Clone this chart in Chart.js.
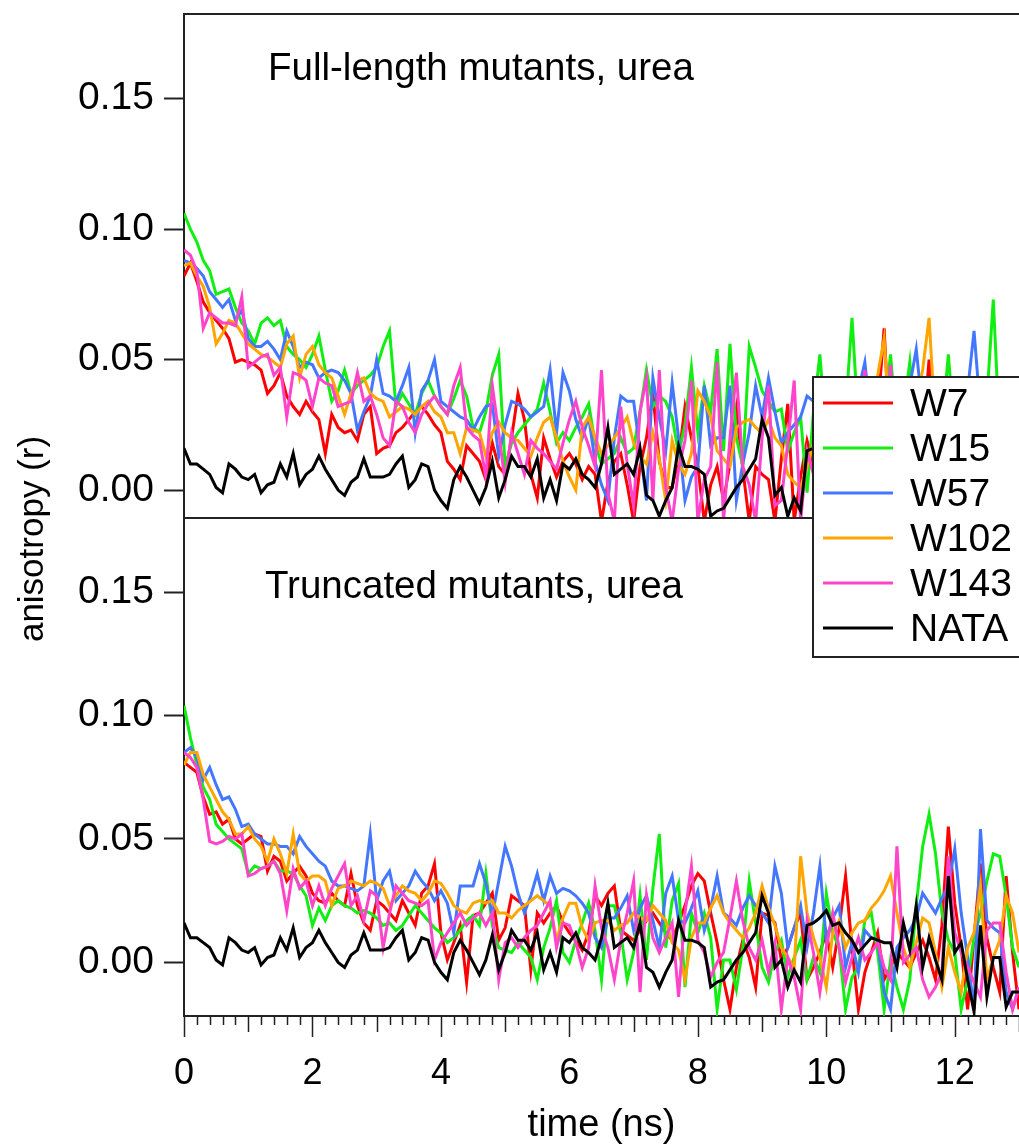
<!DOCTYPE html>
<html>
<head>
<meta charset="utf-8">
<script src="https://cdn.jsdelivr.net/npm/chart.js@4.4.1/dist/chart.umd.min.js"></script>
<style>
  html, body { margin: 0; padding: 0; background: #fff; }
  #chart { display: block; }
</style>
</head>
<body>
<canvas id="chart" width="1019" height="1145"></canvas>
<script>
// anisotropy values are r x 1000, one point every 0.1 ns from 0 to 13 ns
const dt = 0.1;
const xMax = 13;
const seriesNames = ['W7', 'W15', 'W57', 'W102', 'W143', 'NATA'];
const panelTitles = ['Full-length mutants, urea', 'Truncated mutants, urea'];
const xTicks = [0, 2, 4, 6, 8, 10, 12];
const yTicks = [0, 0.05, 0.10, 0.15];

// NATA reference, same trace in both panels
const nata = [
  16, 10, 10, 8, 6, 1, -1, 10, 8, 5,
  4, 6, -1, 2, 3, 10, 5, 14, 2, 6,
  8, 13, 8, 4, 0, -2, 3, 5, 12, 5,
  5, 5, 6, 10, 13, 1, 4, 10, 9, 0,
  -4, -7, 4, 9, 5, 0, -5, 1, 11, -3,
  4, 13, 9, 9, 5, 12, -3, 4, -4, 10,
  8, 12, 6, 4, 1, 10, 24, 6, 8, 10,
  6, 16, -2, -4, -10, -4, 1, 17, 9, 9,
  8, 6, -10, -8, -7, -3, 1, 4, 8, 12,
  27, 20, -2, 1, -10, -3, -8, 15, 16, 18,
  21, 15, 16, 12, 9, 4, 7, 10, 9, 8,
  8, -2, 16, 5, 23, -2, 10, 1, -7, 35,
  4, 8, -7, -20, 15, -14, 2, 2, -18, -12,
  -12
];

// full-length mutants
const fullW7 = [
  82, 87, 80, 72, 68, 65, 62, 58, 49, 50,
  49, 48, 46, 37, 40, 45, 36, 32, 29, 34,
  30, 27, 14, 29, 24, 22, 23, 19, 29, 32,
  14, 16, 17, 22, 24, 27, 30, 32, 29, 25,
  22, 11, 8, 4, 17, 14, 11, 4, 18, 9,
  6, 20, 37, 27, 6, -3, 20, 12, 5, 11,
  14, 10, 4, 9, 6, -12, 3, 11, 14, 2,
  -12, 9, 20, 37, 11, 1, 1, 12, 32, 20,
  9, -12, 2, 9, -4, 10, 31, 8, -12, 9,
  6, 4, -12, 12, 33, -12, 5, 19, 10, 4,
  14, -6, 12, 20, 8, 16, 2, 22, 30, 62,
  14, 6, 18, 26, 10, 20, 50, 12, -4, 16,
  24, 6, 14, 20, 4, 12, 26, 8, 18, 2,
  10
];
const fullW15 = [
  106, 100, 95, 88, 84, 75, 76, 77, 70, 64,
  61, 56, 64, 66, 63, 65, 55, 52, 50, 47,
  52, 59, 46, 34, 38, 46, 37, 40, 42, 44,
  47, 55, 61, 32, 37, 33, 29, 37, 42, 36,
  32, 29, 35, 42, 36, 24, 22, 30, 44, 52,
  9, 18, 22, 25, 28, 31, 41, 30, 18, 22,
  19, 24, 28, 33, 18, 10, 12, 14, 20, 14,
  16, 30, 46, 32, 36, 34, 28, 14, 25, 47,
  22, 40, 30, 54, 15, 56, 20, 9, 55, 47,
  38, 34, 30, 31, 15, 22, 28, -1, 30, 52,
  20, 28, 15, 30, 66, 25, 18, 32, 20, 28,
  52, 22, 30, 49, 18, 26, 12, 30, 24, 52,
  20, 28, 16, 30, 22, 35, 73, 20, 26, 18,
  24
];
const fullW57 = [
  88, 87, 85, 82, 76, 73, 70, 73, 65, 69,
  58, 55, 55, 57, 54, 50, 61, 55, 47, 49,
  48, 43, 45, 46, 45, 42, 37, 23, 30, 36,
  50, 37, 36, 34, 40, 47, 22, 38, 42, 50,
  34, 32, 30, 28, 27, 23, 28, 32, 33, 13,
  25, 34, 33, 31, 28, 30, 32, 46, 22, 45,
  38, 27, 20, 28, 11, 2, -4, 20, 36, 34,
  34, 15, -4, 43, 28, 15, 41, 20, -4, 5,
  9, 40, 17, 20, 20, 40, -4, 10, 22, 40,
  28, 43, 30, 18, 22, 25, 28, 36, 34, 26,
  30, 20, 32, 24, 30, 38, 49, 26, 18, 30,
  24, 34, 28, 40, 54, 30, 22, 32, 20, 36,
  28, 24, 38, 61, 30, 22, 34, 26, 30, 20,
  28
];
const fullW102 = [
  86, 87, 82, 78, 70, 56, 60, 65, 64, 60,
  56, 54, 52, 51, 49, 47, 56, 59, 43, 52,
  55, 48, 45, 43, 36, 29, 37, 42, 43, 37,
  35, 34, 28, 30, 32, 31, 29, 32, 34, 30,
  28, 22, 22, 14, 24, 23, 22, 13, 22, 26,
  22, 20, 19, 16, 13, 20, 26, 28, 20, 11,
  5, 0, 24, 28, 20, 14, 17, 20, 24, 28,
  18, 13, 10, 22, 12, -4, 19, 10, 6, 14,
  38, 34, 28, 15, 12, 9, 24, 26, 27, 24,
  22, 27, 20, 17, 6, 3, 1, 9, 18, 12,
  24, 16, 30, 20, 14, 26, 18, 32, 44, 58,
  22, 16, 28, 20, 34, 46, 66, 24, 18, 30,
  22, 12, 26, 18, 30, 14, 22, 28, 16, 24,
  20
];
const fullW143 = [
  92, 90, 84, 62, 68, 66, 64, 64, 63, 74,
  47, 49, 51, 52, 44, 47, 28, 45, 44, 42,
  32, 43, 41, 40, 32, 33, 34, 45, 34, 36,
  29, 20, 17, 34, 32, 26, 22, 29, 33, 36,
  32, 29, 40, 47, 24, 21, 19, 5, 40, 22,
  3, 22, 14, 6, 19, 16, 14, 11, 8, 18,
  27, 34, 24, 17, 9, 46, -1, -12, 32, 10,
  -6, 30, 43, -4, 46, 1, -12, 8, 19, 42,
  -12, 4, 9, 49, -12, 20, 45, 9, 2, -12,
  20, 40, -6, -4, 18, 42, -12, 15, 6, 22,
  -4, 14, 30, 8, 20, 2, 46, 12, 24, 6,
  48, 10, -8, 20, 28, 4, 16, 32, -6, 14,
  26, 2, 18, 30, -4, 12, 24, 8, 20, -2,
  10
];

// truncated mutants
const truncW7 = [
  81, 79, 77, 67, 60, 61, 56, 58, 50, 48,
  50, 52, 51, 37, 43, 41, 33, 36, 39, 35,
  28, 25, 24, 28, 25, 23, 36, 23, 16, 13,
  25, 23, 20, 17, 25, 20, 15, 28, 31, 40,
  12, 1, 8, 15, -8, 19, 20, 24, 28, 9,
  14, 27, 25, 23, -3, 20, 16, 20, 23, 16,
  12, 9, 5, 12, 27, 23, 28, 31, 13, 11,
  9, 13, 17, 20, 16, 12, 9, 16, 23, 31,
  36, 33, 20, 8, -7, -19, -2, 9, 2, -10,
  20, 19, 16, 1, 6, 14, 20, -7, -2, 4,
  12, -2, 14, 35, 6, -19, -4, 4, 12, -7,
  -2, 4, 1, -2, 4, 9, 2, -7, 15, 55,
  24, 6, -19, 10, 40, 10, -2, -12, 35, 4,
  -19
];
const truncW15 = [
  104, 91, 80, 71, 66, 56, 53, 50, 48, 46,
  36, 39, 38, 39, 41, 37, 37, 36, 31, 27,
  15, 22, 17, 23, 25, 23, 22, 20, 21, 20,
  18, 15, 16, 13, 15, 19, 23, 20, 17, 14,
  12, 8, 10, 13, 17, 19, 15, 36, 15, 6,
  5, 4, 8, 5, 2, -7, 6, 14, 25, 4,
  0, 9, 16, 24, 13, -7, 23, 23, 12, -7,
  4, 27, 1, 30, 52, 6, 25, 32, -10, 20,
  12, 20, 10, -19, 1, 1, -11, 6, 33, 16,
  -2, -8, 4, 9, -6, 2, 9, -7, 2, -4,
  28, 12, 6, -19, -6, -2, 17, 20, 4, -19,
  1, -10, -19, -7, 23, 47, 60, 44, 20, 9,
  4, -19, -7, 10, 20, 33, 44, 43, 27, 6,
  -2
];
const truncW57 = [
  85, 87, 83, 74, 79, 72, 66, 67, 62, 55,
  56, 52, 50, 48, 48, 47, 47, 44, 51, 47,
  44, 41, 39, 33, 31, 31, 30, 29, 31, 52,
  25, 33, 37, 25, 28, 31, 37, 33, 30, 25,
  29, 24, 12, 31, 31, 31, 40, 32, 19, 33,
  47, 39, 28, 20, 27, 36, 25, 35, 28, 30,
  29, 27, 24, 20, 10, 6, 18, 18, 22, 27,
  13, 22, 27, 17, 6, 28, 35, 17, 16, 22,
  29, 13, 22, 35, 20, 18, 15, 22, 27, 23,
  20, 16, 39, 28, 6, 14, 23, 6, 20, 39,
  9, 18, 23, -2, 8, -4, 13, 10, 9, -12,
  -19, 6, 10, 13, 18, 28, 24, 20, 26, 31,
  46, 20, 2, -19, 54, 17, 14, 12, -12, -19,
  -10
];
const truncW102 = [
  80, 85, 85, 76, 71, 66, 61, 58, 52, 52,
  55, 50, 47, 41, 50, 44, 36, 52, 36, 33,
  35, 35, 33, 23, 30, 31, 33, 32, 31, 33,
  32, 30, 23, 27, 31, 29, 28, 25, 28, 33,
  32, 28, 23, 21, 20, 24, 25, 24, 25, 20,
  20, 18, 21, 23, 25, 27, 25, 23, 9, 18,
  24, 24, 14, 9, 16, 17, 17, 13, 15, 16,
  20, 18, 17, 23, 20, 17, 8, 5, -7, 10,
  16, 16, 22, 27, 20, 16, 13, 10, 14, 20,
  31, 22, 15, 6, 2, -2, 43, 20, 10, 2,
  -10, 12, 17, 6, 12, 16, 17, 22, 25, 29,
  35, 20, 6, -2, 8, 18, 16, 4, -10, 6,
  -4, -12, 6, 12, 31, -7, 2, 9, 27, 20,
  4
];
const truncW143 = [
  85, 83, 79, 66, 49, 48, 49, 51, 50, 52,
  35, 36, 38, 39, 41, 36, 21, 38, 30, 33,
  23, 31, 23, 30, 35, 40, 23, 27, 17, 29,
  27, 6, 20, 31, 28, 25, 24, 23, 25, 1,
  8, 12, 16, 20, 15, 18, 20, 15, 20, -7,
  8, 10, 6, 10, 13, 15, 20, 25, 6, 16,
  15, 8, -2, 6, 31, 14, 6, -7, 9, 20,
  33, -12, 27, 10, 4, 10, 16, -14, 20, 39,
  9, 4, -6, 0, 4, 18, 33, 17, 6, 1,
  9, -4, 8, -19, 2, -6, -19, 17, 4, -12,
  6, 20, 6, -8, 2, 10, 1, 4, 8, -2,
  -7, 47, 0, 3, 6, -7, -14, -10, -4, 43,
  12, 4, -2, -8, -14, 13, 16, 16, -4, -19,
  -10
];

const colors = ['#ff0000', '#11ee11', '#4477ff', '#ffa500', '#ff44cc', '#000000'];
const fontFamily = "'Liberation Sans', Arial, sans-serif";

const times = nata.map((v, i) => Math.round(i * dt * 10) / 10);

function makeSets(list, axisId) {
    return list.map(function (vals, k) {
        return {
            label: seriesNames[k],
            data: vals.map((v, i) => ({ x: times[i], y: v / 1000 })),
            yAxisID: axisId,
            borderColor: colors[k],
            backgroundColor: colors[k],
            borderWidth: 3,
            pointRadius: 0,
            tension: 0,
            order: seriesNames.length - k
        };
    });
}

const datasets = makeSets([fullW7, fullW15, fullW57, fullW102, fullW143, nata], 'yTop')
    .concat(makeSets([truncW7, truncW15, truncW57, truncW102, truncW143, nata], 'yBottom'));

// keep every trace inside its own panel
const panelClip = {
    id: 'panelClip',
    beforeDatasetDraw(chart, args) {
        const s = chart.scales[args.meta.yAxisID];
        const a = chart.chartArea;
        const ctx = chart.ctx;
        ctx.save();
        ctx.beginPath();
        ctx.rect(a.left, s.top, a.right - a.left, s.bottom - s.top);
        ctx.clip();
    },
    afterDatasetDraw(chart) {
        chart.ctx.restore();
    }
};

const decorations = {
    id: 'decorations',
    afterDraw(chart) {
        const ctx = chart.ctx;
        const a = chart.chartArea;
        const xs = chart.scales.x;
        const top = chart.scales.yTop;
        const bottom = chart.scales.yBottom;
        ctx.save();

        // frame lines
        ctx.strokeStyle = '#222';
        ctx.lineWidth = 2;
        ctx.beginPath();
        ctx.moveTo(a.left, top.top);
        ctx.lineTo(a.right, top.top);
        ctx.moveTo(a.left, top.bottom);
        ctx.lineTo(a.right, top.bottom);
        ctx.stroke();

        // x tick marks: long at even, medium at odd, short every 0.2
        ctx.lineWidth = 1.5;
        ctx.beginPath();
        for (let k = 0; k <= xMax * 5; k++) {
            const px = Math.round(xs.getPixelForValue(k / 5)) + 0.5;
            const len = k % 10 === 0 ? 21 : (k % 5 === 0 ? 16 : 9);
            ctx.moveTo(px, xs.top);
            ctx.lineTo(px, xs.top + len);
        }
        ctx.stroke();

        // panel titles
        ctx.fillStyle = '#000';
        ctx.font = '38.5px ' + fontFamily;
        ctx.textBaseline = 'alphabetic';
        ctx.textAlign = 'left';
        ctx.fillText(panelTitles[0], a.left + 84, top.top + 66);
        ctx.fillText(panelTitles[1], a.left + 81, bottom.top + 80);

        // y axis title
        ctx.save();
        ctx.translate(33, 539);
        ctx.rotate(-Math.PI / 2);
        ctx.textAlign = 'center';
        ctx.textBaseline = 'middle';
        ctx.font = '35px ' + fontFamily;
        ctx.fillText('anisotropy (r)', 0, 0);
        ctx.restore();

        // legend box
        const lx = 813, ly = 377, lh = 280;
        ctx.fillStyle = '#fff';
        ctx.fillRect(lx, ly, chart.width - lx + 10, lh);
        ctx.strokeStyle = '#222';
        ctx.lineWidth = 2;
        ctx.strokeRect(lx, ly, chart.width - lx + 10, lh);
        ctx.font = '39px ' + fontFamily;
        ctx.textAlign = 'left';
        ctx.textBaseline = 'middle';
        seriesNames.forEach(function (name, k) {
            const y = ly + 26 + k * 45;
            ctx.strokeStyle = colors[k];
            ctx.lineWidth = 3;
            ctx.beginPath();
            ctx.moveTo(lx + 10, y);
            ctx.lineTo(lx + 80, y);
            ctx.stroke();
            ctx.fillStyle = '#000';
            ctx.fillText(name, lx + 97, y + 2);
        });
        ctx.restore();
    }
};

function yAxis(min, max, weight) {
    return {
        type: 'linear',
        position: 'left',
        stack: 'panels',
        stackWeight: weight,
        min: min,
        max: max,
        afterBuildTicks: function (s) { s.ticks = yTicks.map(v => ({ value: v })); },
        afterFit: function (s) {
            s.width = 184;
            s.paddingTop = 0;
            s.paddingBottom = 0;
        },
        grid: { drawOnChartArea: false, drawTicks: true, tickLength: 20, tickWidth: 2, tickColor: '#222' },
        border: { display: true, color: '#222', width: 2 },
        ticks: {
            color: '#000',
            padding: 10,
            font: { family: fontFamily, size: 39 },
            callback: v => v.toFixed(2)
        }
    };
}

new Chart(document.getElementById('chart').getContext('2d'), {
    type: 'line',
    data: { datasets: datasets },
    options: {
        responsive: false,
        animation: false,
        devicePixelRatio: 1,
        events: [],
        layout: { padding: { top: 14, left: 0, right: 0, bottom: 0 } },
        plugins: {
            legend: { display: false },
            tooltip: { enabled: false },
            title: { display: false }
        },
        scales: {
            x: {
                type: 'linear',
                min: 0,
                max: xMax,
                afterBuildTicks: function (s) { s.ticks = xTicks.map(v => ({ value: v })); },
                afterFit: function (s) {
                    s.height = 129;
                    s.paddingLeft = 0;
                    s.paddingRight = 0;
                },
                grid: { drawOnChartArea: false, drawTicks: false },
                border: { display: true, color: '#222', width: 2 },
                ticks: {
                    color: '#000',
                    padding: 36,
                    maxRotation: 0,
                    font: { family: fontFamily, size: 36 },
                    callback: v => String(v)
                },
                title: {
                    display: true,
                    text: 'time (ns)',
                    color: '#000',
                    padding: 0,
                    font: { family: fontFamily, size: 38, lineHeight: 1 }
                }
            },
            // stacked panels are placed bottom-up in declaration order
            yBottom: yAxis(-0.0217, 0.18, 498),
            yTop: yAxis(-0.0107, 0.1824, 504)
        }
    },
    plugins: [panelClip, decorations]
});
</script>
</body>
</html>
